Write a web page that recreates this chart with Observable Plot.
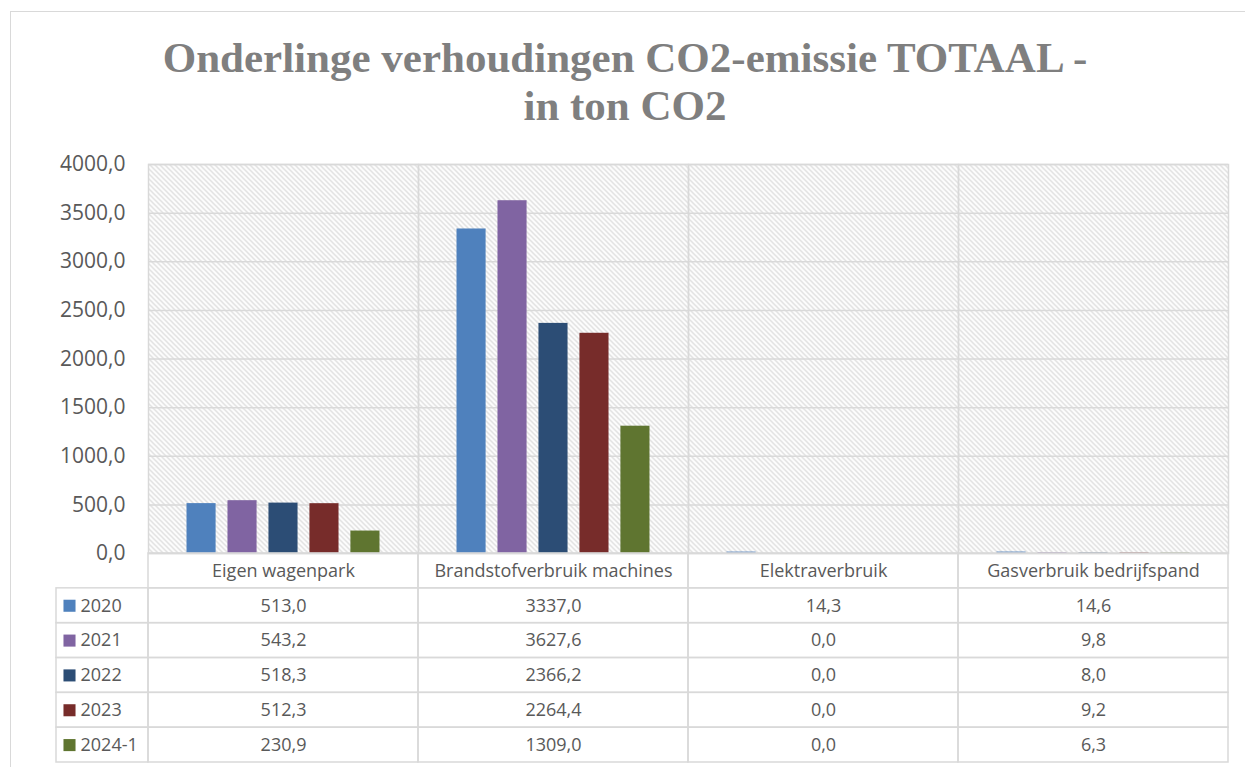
<!DOCTYPE html>
<html>
<head>
<meta charset="utf-8">
<script src="https://cdn.jsdelivr.net/npm/d3@7"></script>
<script src="https://cdn.jsdelivr.net/npm/@observablehq/plot@0.6"></script>
<style>
  html, body { margin: 0; padding: 0; background: #fff; width: 1245px; height: 767px; overflow: hidden; }
  #wrap { position: relative; width: 1245px; height: 767px; }
  #border { position: absolute; left: 10px; top: 11px; width: 1260px; height: 800px; border: 1.5px solid #d9d9d9; box-sizing: border-box; }
  #title { position: absolute; left: 0; top: 34px; width: 1250px; text-align: center; font-family: "Liberation Serif", serif; font-weight: bold; font-size: 43px; line-height: 48px; color: #7f7f7f; }
  .abs { position: absolute; }
  #chart svg g[aria-label="y-axis tick label"] text { font-size: 21px; }
</style>
</head>
<body>
<div id="wrap">
  <div id="border"></div>
  <div id="title">Onderlinge verhoudingen CO2-emissie TOTAAL -<br>in ton CO2</div>
  <div id="chart" class="abs" style="left:0;top:150px"></div>
  <div id="legend" class="abs" style="left:0;top:553px"></div>
  <div id="table" class="abs" style="left:0;top:553px"></div>
</div>
<script>
// ---- data ----
const categories = ["Eigen wagenpark", "Brandstofverbruik machines", "Elektraverbruik", "Gasverbruik bedrijfspand"];
const years = ["2020", "2021", "2022", "2023", "2024-1"];
const v2020 = [513.0, 3337.0, 14.3, 14.6];
const v2021 = [543.2, 3627.6, 0.0, 9.8];
const v2022 = [518.3, 2366.2, 0.0, 8.0];
const v2023 = [512.3, 2264.4, 0.0, 9.2];
const v2024 = [230.9, 1309.0, 0.0, 6.3];
const seriesValues = [v2020, v2021, v2022, v2023, v2024];
const colors = ["#4F81BD", "#8064A2", "#2C4D75", "#772C2A", "#5F7530"];
const yTicks = [0, 500, 1000, 1500, 2000, 2500, 3000, 3500, 4000];

const locale = d3.formatLocale({decimal: ",", thousands: "", grouping: [3], currency: ["", ""]});
const fmt = locale.format(".1f");

const bars = [];
years.forEach((yr, i) => categories.forEach((c, j) => bars.push({cat: c, year: yr, value: seriesValues[i][j]})));

const grid = "#d9d9d9";
const textColor = "#595959";
const font = "'Open Sans', 'Noto Sans', sans-serif";

// ---- chart ----
const chart = Plot.plot({
  width: 1245, height: 415,
  marginLeft: 148, marginRight: 17, marginTop: 14, marginBottom: 12,
  style: {background: "transparent", fontFamily: font, fontSize: "21px", color: textColor, overflow: "visible"},
  fx: {domain: categories, padding: 0, round: false, axis: null},
  x: {domain: years, paddingInner: 0.29, paddingOuter: 0.94, round: false, axis: null},
  y: {domain: [0, 4000]},
  color: {domain: years, range: colors},
  marks: [
    Plot.frame({fill: "url(#hatch)"}),
    Plot.ruleY(yTicks, {stroke: grid, strokeWidth: 1.5}),
    Plot.barY(bars, {fx: "cat", x: "year", y: "value", fill: "year"}),
    Plot.frame({stroke: grid, strokeWidth: 1.5}),
    Plot.axisY({ticks: yTicks, tickFormat: fmt, tickSize: 0, tickPadding: 23, fontSize: 21, fill: textColor, label: null})
  ]
});
d3.select(chart).insert("defs", ":first-child").html(
  '<pattern id="hatch" patternUnits="userSpaceOnUse" width="5" height="5">' +
  '<rect width="5" height="5" fill="#ffffff"/>' +
  '<path d="M-1,-1L6,6M-1,4L1,6M4,-1L6,1" stroke="#d4d4d4" stroke-width="1.2"/>' +
  '</pattern>');
d3.select(chart).selectAll('g[aria-label="y-axis tick label"]').attr("font-size", 21);
document.getElementById("chart").appendChild(chart);

// ---- table ----
const rows = ["hdr", ...years];
const cells = [];
categories.forEach(c => cells.push({cat: c, row: "hdr", text: c}));
years.forEach((yr, i) => categories.forEach((c, j) => cells.push({cat: c, row: yr, text: fmt(seriesValues[i][j])})));

const table = Plot.plot({
  width: 1245, height: 214,
  marginLeft: 148, marginRight: 17, marginTop: 0, marginBottom: 5,
  style: {background: "transparent", fontFamily: font, fontSize: "18px", color: textColor, overflow: "visible"},
  x: {domain: categories, padding: 0, round: false, axis: null},
  y: {domain: rows, padding: 0, round: false, axis: null},
  marks: [
    Plot.cell(cells, {x: "cat", y: "row", fill: "none", stroke: grid, strokeWidth: 1.5, inset: 0}),
    Plot.text(cells, {x: "cat", y: "row", text: "text", fill: textColor, fontSize: 18})
  ]
});
document.getElementById("table").appendChild(table);

// ---- legend column ----
const legendRows = years.map(yr => ({row: yr, year: yr}));
const legend = Plot.plot({
  width: 148, height: 214,
  marginLeft: 56, marginRight: 0, marginTop: 0, marginBottom: 5,
  style: {background: "transparent", fontFamily: font, fontSize: "18px", color: textColor, overflow: "visible"},
  y: {domain: rows, padding: 0, round: false, axis: null},
  color: {domain: years, range: colors},
  marks: [
    Plot.cell(legendRows, {y: "row", fill: "none", stroke: grid, strokeWidth: 1.5, inset: 0}),
    Plot.dot(legendRows, {y: "row", frameAnchor: "left", dx: 13, symbol: "square", r: 6.8, fill: "year", stroke: null}),
    Plot.text(legendRows, {y: "row", text: "year", frameAnchor: "left", dx: 24, textAnchor: "start", fill: textColor, fontSize: 18})
  ]
});
document.getElementById("legend").appendChild(legend);
</script>
</body>
</html>
